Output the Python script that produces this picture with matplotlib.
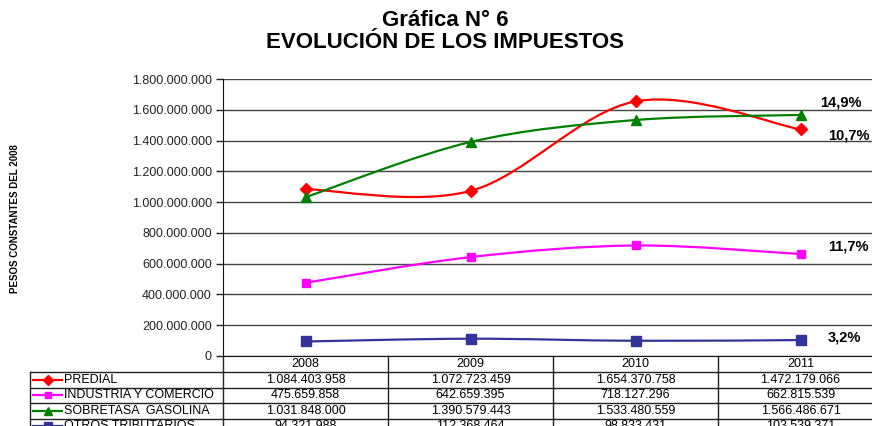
import matplotlib
matplotlib.use("Agg")
import matplotlib.pyplot as plt
import numpy as np
from matplotlib.path import Path
from matplotlib.patches import PathPatch
from matplotlib.lines import Line2D
from matplotlib.transforms import blended_transform_factory
from matplotlib.ticker import FuncFormatter, MultipleLocator

plt.rcParams['font.family'] = ['Liberation Sans', 'DejaVu Sans']

years = ["2008", "2009", "2010", "2011"]
predial = [1084403958, 1072723459, 1654370758, 1472179066]
industria = [475659858, 642659395, 718127296, 662815539]
sobretasa = [1031848000, 1390579443, 1533480559, 1566486671]
otros = [94321988, 112368464, 98833431, 103539371]
names = ["PREDIAL", "INDUSTRIA Y COMERCIO", "SOBRETASA  GASOLINA", "OTROS TRIBUTARIOS"]
growth = ["10,7%", "11,7%", "14,9%", "3,2%"]

series = [predial, industria, sobretasa, otros]
colors = ["#ff0000", "#ff00ff", "#008000", "#333399"]
markers = ["D", "s", "^", "s"]
msizes = [6.5, 6, 7.5, 7]
# label offsets (pixels) from the last point
lab_off = [(48, -6), (48, 8), (40, 12), (44, 3)]


def miles(v, pos=None):
    return "{:,}".format(int(round(v))).replace(",", ".")


def smooth_path(xs, ys):
    # excel-like smoothed line: cubic bezier through every point
    pts = np.column_stack([xs, ys]).astype(float)
    ext = np.vstack([pts[0], pts, pts[-1]])
    verts = [pts[0]]
    codes = [Path.MOVETO]
    for i in range(len(pts) - 1):
        p0, p1, p2, p3 = ext[i], ext[i + 1], ext[i + 2], ext[i + 3]
        verts += [p1 + (p2 - p0) / 6, p2 - (p3 - p1) / 6, p2]
        codes += [Path.CURVE4] * 3
    return Path(verts, codes)


fig = plt.figure(figsize=(8.72, 4.26), dpi=100)
ax = fig.add_axes([223 / 872, 70 / 426, 660 / 872, 277 / 426])
ax.set_xlim(-0.5, 3.5)
ax.set_ylim(0, 1800000000)

x = np.arange(len(years))
ax.yaxis.set_major_locator(MultipleLocator(200000000))
ax.yaxis.set_major_formatter(FuncFormatter(miles))
ax.grid(axis='y', color='#444444', lw=1)
ax.set_axisbelow(True)
ax.set_xticks([])
ax.tick_params(axis='y', length=5, width=1, color='#222222', labelsize=9,
               labelcolor='#222222', pad=3)
for s in ['top', 'right']:
    ax.spines[s].set_visible(False)
ax.spines['left'].set_color('#111111')
ax.spines['bottom'].set_color('#111111')

for vals, c, m, ms, lab, off in zip(series, colors, markers, msizes, growth, lab_off):
    ax.add_patch(PathPatch(smooth_path(x, vals), fill=False, edgecolor=c,
                           lw=1.6, zorder=3))
    ax.plot(x, vals, ls='none', marker=m, ms=ms, color=c, zorder=4)
    ax.annotate(lab, (x[-1], vals[-1]), xytext=off, textcoords='offset pixels',
                ha='center', va='center', fontsize=10.5, fontweight='bold',
                annotation_clip=False)

# data table under the plot
tr = blended_transform_factory(ax.transData, ax.transAxes)
ph = 277.0
head_bot = -16 / ph
row_h = 15.5 / ph
left = -0.5 - 193 / 165
nrows = len(names)
bottom = head_bot - row_h * (nrows + 0.5)
lc = '#222222'

for i in range(len(years) + 1):
    ax.add_line(Line2D([i - 0.5, i - 0.5], [0, bottom], transform=tr, color=lc,
                       lw=1, clip_on=False))
ax.add_line(Line2D([left, left], [head_bot, bottom], transform=tr, color=lc,
                   lw=1, clip_on=False))
for r in range(nrows + 1):
    yb = head_bot - r * row_h
    ax.add_line(Line2D([left, 3.5], [yb, yb], transform=tr, color=lc, lw=1,
                       clip_on=False))

for i, yr in enumerate(years):
    ax.text(i, head_bot / 2, yr, transform=tr, ha='center', va='center',
            fontsize=9, clip_on=False)

kx0 = left + 3 / 165
kx1 = left + 32 / 165
for r, (nm, vals, c, m, ms) in enumerate(zip(names, series, colors, markers, msizes)):
    yc = head_bot - (r + 0.5) * row_h
    ax.add_line(Line2D([kx0, kx1], [yc, yc], transform=tr, color=c, lw=1.6,
                       clip_on=False))
    ax.add_line(Line2D([(kx0 + kx1) / 2], [yc], transform=tr, color=c, marker=m,
                       ms=ms * 0.8, clip_on=False))
    ax.text(kx1 + 2 / 165, yc, nm, transform=tr, ha='left', va='center',
            fontsize=9, clip_on=False)
    for i, v in enumerate(vals):
        ax.text(i, yc, miles(v), transform=tr, ha='center', va='center',
                fontsize=9, clip_on=False)

fig.text(445 / 872, 1 - 20 / 426, "Gráfica N° 6", ha='center', va='center',
         fontsize=16, fontweight='bold')
fig.text(445 / 872, 1 - 42 / 426, "EVOLUCIÓN DE LOS IMPUESTOS", ha='center',
         va='center', fontsize=16, fontweight='bold')
fig.text(15 / 872, 1 - 219 / 426, "PESOS CONSTANTES DEL 2008", rotation=90,
         ha='center', va='center', fontsize=7, fontweight='bold',
         family=['Liberation Sans Narrow', 'Liberation Sans', 'DejaVu Sans'])

fig.savefig("out.png", dpi=100)
